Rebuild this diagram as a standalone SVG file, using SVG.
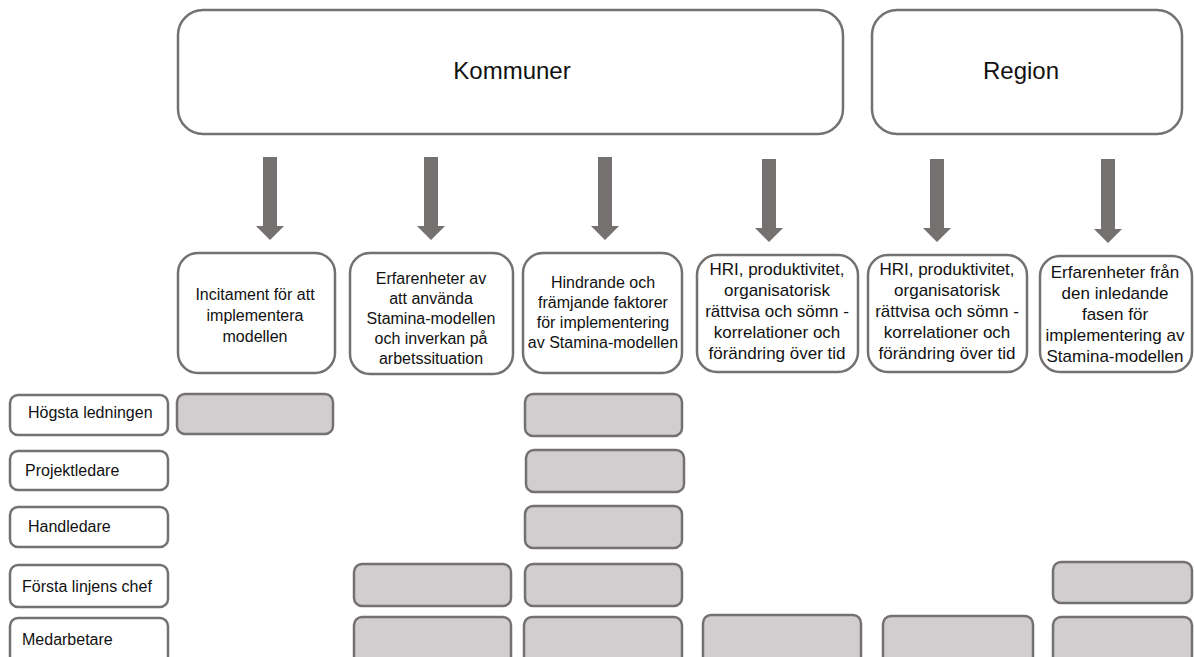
<svg xmlns="http://www.w3.org/2000/svg" width="1194" height="657" viewBox="0 0 1194 657">
<style>
.box{fill:#ffffff;stroke:#767171;stroke-width:2.5}
.cell{fill:#D0CECE;stroke:#767171;stroke-width:2.5}
.arrow{fill:#767171;stroke:none}
text{font-family:"Liberation Sans",Arial,sans-serif;fill:#111111}
.big{font-size:24px;text-anchor:middle}
.t16{font-size:16px;text-anchor:middle}
.t17{font-size:17px;text-anchor:middle}
.lab{font-size:16px}
</style>
<rect width="1194" height="657" fill="#ffffff"/>

<g id="kommuner">
<rect class="box" x="178" y="10" width="665" height="124" rx="25"/>
<text class="big" x="512" y="79">Kommuner</text>
</g>
<g id="region">
<rect class="box" x="872" y="10" width="310" height="124" rx="25"/>
<text class="big" x="1021" y="79">Region</text>
</g>

<g id="connectors">
<path class="arrow" d="M263 157H277V226H284L270 240L256 226H263Z"/>
<path class="arrow" d="M424 157H438V226H445L431 240L417 226H424Z"/>
<path class="arrow" d="M598 157H612V226H619L605 240L591 226H598Z"/>
<path class="arrow" d="M762 159H776V228H783L769 242L755 228H762Z"/>
<path class="arrow" d="M930 159H944V228H951L937 242L923 228H930Z"/>
<path class="arrow" d="M1101 159H1115V229H1122L1108 243L1094 229H1101Z"/>
</g>

<g id="col1">
<rect class="box" x="178" y="253" width="157" height="120" rx="20"/>
<text class="t16" x="255" y="300">Incitament för att</text>
<text class="t16" x="255" y="321">implementera</text>
<text class="t16" x="255" y="342">modellen</text>
</g>
<g id="col2">
<rect class="box" x="350" y="253" width="163" height="121" rx="20"/>
<text class="t16" x="431" y="284">Erfarenheter av</text>
<text class="t16" x="431" y="304">att använda</text>
<text class="t16" x="431" y="324">Stamina-modellen</text>
<text class="t16" x="431" y="344">och inverkan på</text>
<text class="t16" x="431" y="364">arbetssituation</text>
</g>
<g id="col3">
<rect class="box" x="523" y="253" width="159" height="120" rx="20"/>
<text class="t16" x="603" y="288">Hindrande och</text>
<text class="t16" x="603" y="308">främjande faktorer</text>
<text class="t16" x="603" y="328">för implementering</text>
<text class="t16" x="603" y="348">av Stamina-modellen</text>
</g>
<g id="col4">
<rect class="box" x="697" y="255" width="161" height="117" rx="20"/>
<text class="t17" x="777" y="275">HRI, produktivitet,</text>
<text class="t17" x="777" y="296">organisatorisk</text>
<text class="t17" x="777" y="317">rättvisa och sömn -</text>
<text class="t17" x="777" y="338">korrelationer och</text>
<text class="t17" x="777" y="359">förändring över tid</text>
</g>
<g id="col5">
<rect class="box" x="868" y="255" width="159" height="117" rx="20"/>
<text class="t17" x="947" y="275">HRI, produktivitet,</text>
<text class="t17" x="947" y="296">organisatorisk</text>
<text class="t17" x="947" y="317">rättvisa och sömn -</text>
<text class="t17" x="947" y="338">korrelationer och</text>
<text class="t17" x="947" y="359">förändring över tid</text>
</g>
<g id="col6">
<rect class="box" x="1040" y="256" width="152" height="116" rx="20"/>
<text class="t17" x="1115" y="278">Erfarenheter från</text>
<text class="t17" x="1115" y="299">den inledande</text>
<text class="t17" x="1115" y="320">fasen för</text>
<text class="t17" x="1115" y="341">implementering av</text>
<text class="t17" x="1115" y="362">Stamina-modellen</text>
</g>

<g id="row-hogsta">
<rect class="box" x="10" y="395" width="158" height="40" rx="8"/>
<text class="lab" x="28" y="418">Högsta ledningen</text>
</g>
<g id="row-projektledare">
<rect class="box" x="10" y="451" width="158" height="39" rx="8"/>
<text class="lab" x="25" y="476">Projektledare</text>
</g>
<g id="row-handledare">
<rect class="box" x="10" y="507" width="158" height="40" rx="8"/>
<text class="lab" x="28" y="532">Handledare</text>
</g>
<g id="row-forsta">
<rect class="box" x="10" y="565" width="158" height="42" rx="8"/>
<text class="lab" x="22" y="592">Första linjens chef</text>
</g>
<g id="row-medarbetare">
<rect class="box" x="10" y="618" width="158" height="50" rx="8"/>
<text class="lab" x="22" y="645">Medarbetare</text>
</g>

<g id="cells">
<rect class="cell" x="177" y="394" width="156" height="40" rx="8"/>
<rect class="cell" x="525" y="394" width="157" height="42" rx="8"/>
<rect class="cell" x="526" y="450" width="158" height="42" rx="8"/>
<rect class="cell" x="525" y="506" width="157" height="42" rx="8"/>
<rect class="cell" x="525" y="564" width="157" height="42" rx="8"/>
<rect class="cell" x="524" y="617" width="158" height="50" rx="8"/>
<rect class="cell" x="354" y="564" width="157" height="42" rx="8"/>
<rect class="cell" x="354" y="617" width="157" height="50" rx="8"/>
<rect class="cell" x="703" y="615" width="158" height="50" rx="8"/>
<rect class="cell" x="883" y="616" width="150" height="50" rx="8"/>
<rect class="cell" x="1053" y="562" width="139" height="41" rx="8"/>
<rect class="cell" x="1053" y="617" width="139" height="50" rx="8"/>
</g>
</svg>
